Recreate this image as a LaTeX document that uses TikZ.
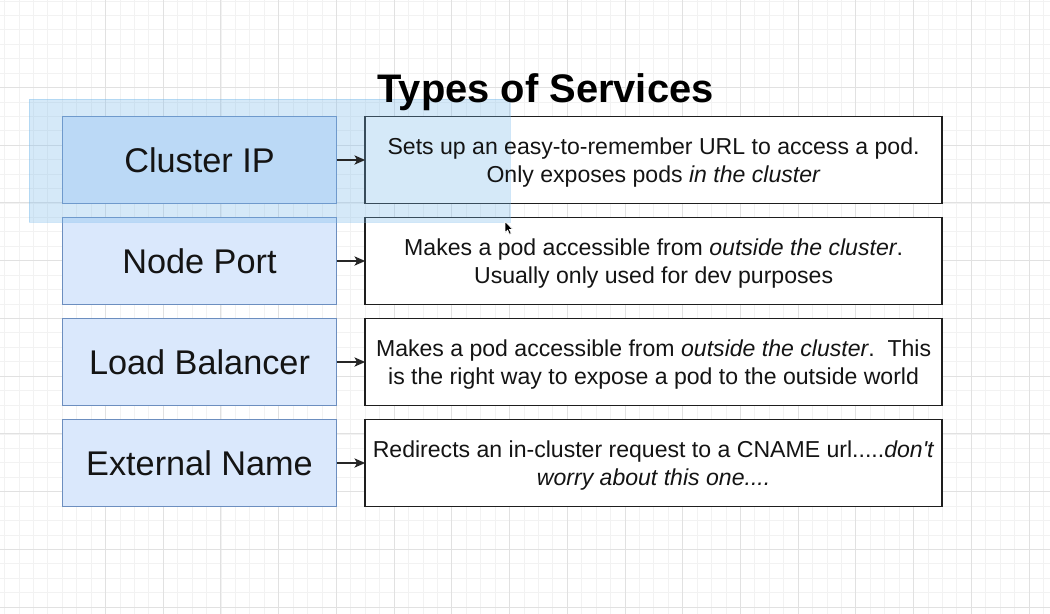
\documentclass[tikz,border=0pt]{standalone}
\usepackage{fontspec}
\setmainfont{Liberation Sans}[Ligatures=TeXOff]
\usetikzlibrary{arrows.meta}
\definecolor{gridminor}{RGB}{242,242,242}
\definecolor{gridmajor}{RGB}{225,225,225}
\definecolor{svcfill}{RGB}{218,232,252}
\definecolor{svcdraw}{RGB}{108,142,191}
\definecolor{selfill}{RGB}{118,185,235}
\definecolor{descdraw}{RGB}{30,30,30}
\definecolor{inktext}{RGB}{20,20,20}
\begin{document}
\begin{tikzpicture}[x=0.75pt,y=-0.75pt,
  svc/.style={draw=svcdraw, fill=svcfill, line width=1.1pt, minimum width=274*0.75pt, minimum height=86.5*0.75pt, inner sep=0pt, outer sep=0pt},
  desc/.style={draw=descdraw, fill=white, line width=1.1pt, minimum width=577*0.75pt, minimum height=86.5*0.75pt, inner sep=0pt, outer sep=0pt},
  svclabel/.style={font=\fontsize{25.7}{30}\selectfont, text=inktext, anchor=base, inner sep=0pt},
  desctext/.style={font=\fontsize{17.3}{21}\selectfont, text=inktext, anchor=base, inner sep=0pt},
  titletext/.style={font=\bfseries\fontsize{29.9}{36}\selectfont, anchor=base, inner sep=0pt},
  link/.style={-{Stealth[length=8pt,width=7pt,inset=2pt]}, line width=0.9pt, draw=black!85},
  minorline/.style={draw=gridminor, line width=0.6pt},
  majorline/.style={draw=gridmajor, line width=0.7pt}]
\useasboundingbox (0,0) rectangle (1050,614);
\fill[white] (0,0) rectangle (1050,614);
% grid
\foreach \i in {0,...,72} \draw[minorline] ({4.5+14.43*\i},0) -- ({4.5+14.43*\i},614);
\foreach \j in {0,...,42} \draw[minorline] (0,{1+14.43*\j}) -- (1050,{1+14.43*\j});
\foreach \i in {0,...,16} \draw[majorline] ({105.5+57.72*\i},0) -- ({105.5+57.72*\i},614);
\foreach \j in {0,...,9} \draw[majorline] (0,{87.5+57.72*\j}) -- (1050,{87.5+57.72*\j});

% service boxes
\node[svc] (s1) at (199.5,160) {};
\node[svc] (s2) at (199.5,261) {};
\node[svc] (s3) at (199.5,362) {};
\node[svc] (s4) at (199.5,463) {};

% description boxes
\node[desc] (d1) at (653.6,160) {};
\node[desc] (d2) at (653.6,261) {};
\node[desc] (d3) at (653.6,362) {};
\node[desc] (d4) at (653.6,463) {};

% selection rubber band
\fill[selfill, fill opacity=0.3] (29,99) rectangle (510,222);
\draw[selfill, draw opacity=0.35, line width=0.75pt] (29,99) rectangle (510,222);

% title
\node[titletext] (title) at (545.5,102.5) {Types of Services};

% labels
\node[svclabel] (l1) at (199.5,172.2) {Cluster IP};
\node[svclabel] (l2) at (199.5,273.2) {Node Port};
\node[svclabel] (l3) at (199.5,374.2) {Load Balancer};
\node[svclabel] (l4) at (199.5,475.2) {External Name};

\node[desctext] (t1a) at (653.6,154) {Sets up an easy-to-remember URL to access a pod.};
\node[desctext] (t1b) at (653.6,182.5) {Only exposes pods \textit{in the cluster}};
\node[desctext] (t2a) at (653.6,255) {Makes a pod accessible from \textit{outside the cluster}.};
\node[desctext] (t2b) at (653.6,283.5) {Usually only used for dev purposes};
\node[desctext] (t3a) at (653.6,356) {Makes a pod accessible from \textit{outside the cluster}.\ \ This};
\node[desctext] (t3b) at (653.6,384.5) {is the right way to expose a pod to the outside world};
\node[desctext] (t4a) at (653.6,457) {Redirects an in-cluster request to a CNAME url.....\textit{don't}};
\node[desctext] (t4b) at (653.6,485.5) {\textit{worry about this one....}};

% connectors
\draw[link] (s1.east) -- (d1.west);
\draw[link] (s2.east) -- (d2.west);
\draw[link] (s3.east) -- (d3.west);
\draw[link] (s4.east) -- (d4.west);

% mouse cursor
\filldraw[fill=black, draw=white, line width=0.4pt]
  (505,221.5) -- (505,232.5) -- (507.6,230.1) -- (509.5,234.3) -- (511.2,233.5) -- (509.4,229.5) -- (512.8,229.5) -- cycle;
\end{tikzpicture}
\end{document}
